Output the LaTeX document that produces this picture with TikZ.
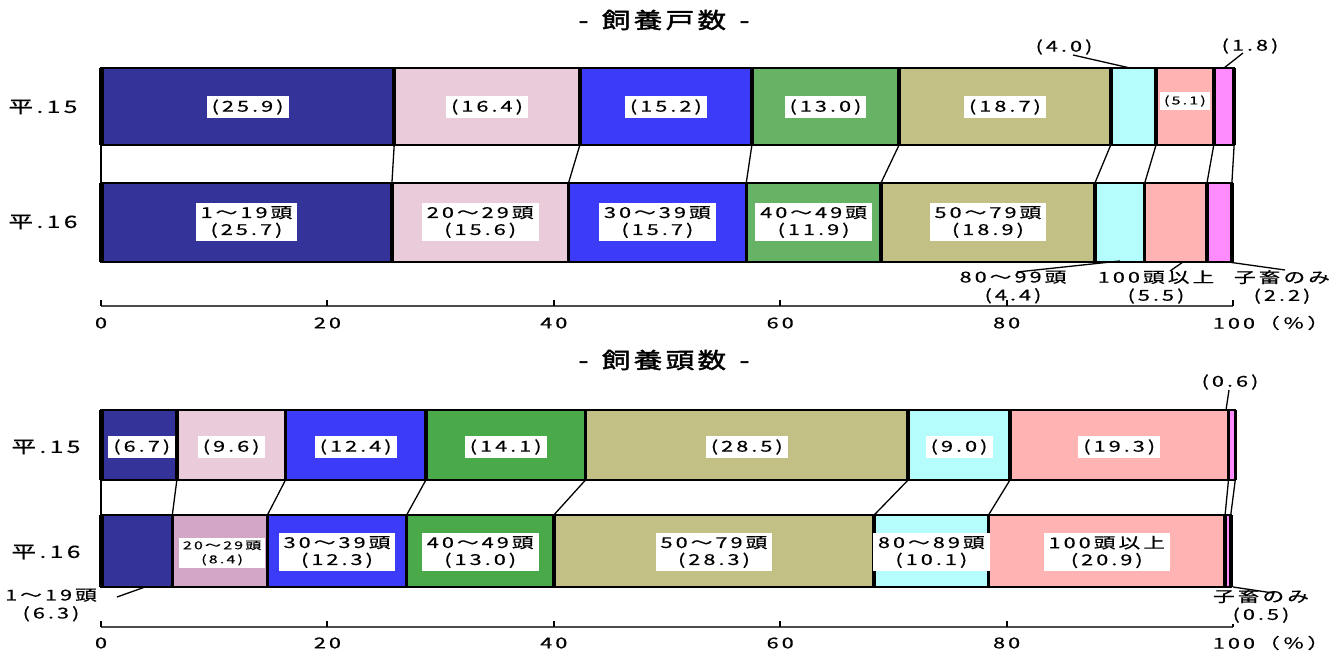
\documentclass[tikz,border=0pt]{standalone}
\usepackage{fontspec}
\newfontfamily\jp[FakeStretch=1.45,LetterSpace=20,FakeBold=0.5]{Noto Sans CJK JP}
\newfontfamily\jpt[FakeStretch=1.3,LetterSpace=15,FakeBold=1.8]{Noto Sans CJK JP}
\definecolor{cA}{HTML}{333399}
\definecolor{cB}{HTML}{E9CBDA}
\definecolor{cBb}{HTML}{D3A5C6}
\definecolor{cC}{HTML}{3C3CF8}
\definecolor{cD}{HTML}{66B366}
\definecolor{cDb}{HTML}{4AAA4A}
\definecolor{cE}{HTML}{C2C084}
\definecolor{cF}{HTML}{B5FDFD}
\definecolor{cG}{HTML}{FFB3B3}
\definecolor{cH}{HTML}{FF8CFF}
\begin{document}
\begin{tikzpicture}[x=1pt,y=-1pt,
 lab/.style={fill=white, inner xsep=5pt, inner ysep=3pt, align=center, font=\jp\fontsize{15}{17}\selectfont},
 slab/.style={fill=white, inner xsep=4pt, inner ysep=3pt, align=center, font=\jp\fontsize{11}{14}\selectfont},
 olab/.style={align=center, inner sep=1pt, font=\jp\fontsize{15}{18}\selectfont},
 rowlab/.style={font=\jp\fontsize{17}{19}\selectfont},
 ttl/.style={font=\jpt\fontsize{22}{24}\selectfont},
 ticklab/.style={font=\jp\fontsize{15}{17}\selectfont},
 frame/.style={draw=black, line width=2pt},
 divider/.style={line width=3.5pt},
 series/.style={line width=1.3pt},
 leader/.style={line width=1.3pt},
 axisline/.style={line width=2pt, draw=black!70},
 tick/.style={line width=2pt}]
\useasboundingbox (0,0) rectangle (1343,653);
% titles and row labels
\node[ttl] (t1) at (664,20) {-\, 飼養戸数 \,-};
\node[ttl] (t2) at (664,360) {-\, 飼養頭数 \,-};
\node[rowlab] (r1) at (43,107) {平.15};
\node[rowlab] (r2) at (43,222) {平.16};
\node[rowlab] (r3) at (46,447) {平.15};
\node[rowlab] (r4) at (46,552) {平.16};
\begin{scope}[xshift=101pt, x=11.32pt]
% ---------- top chart, bar A (平.15)
\foreach \s/\e/\c in {0/25.9/cA,25.9/42.3/cB,42.3/57.5/cC,57.5/70.5/cD,70.5/89.2/cE,89.2/93.2/cF,93.2/98.3/cG,98.3/100.1/cH}
  \fill[\c] (\s,68) rectangle (\e,145);
\draw[frame] (0,68) rectangle (100.1,145);
\foreach \p in {25.9,42.3,57.5,70.5,89.2,93.2,98.3,100.1} \draw[divider] (\p,68) -- (\p,145);
\draw[line width=5pt] (0,68) -- (0,145);
% ---------- top chart, bar B (平.16)
\foreach \s/\e/\c in {0/25.7/cA,25.7/41.3/cB,41.3/57.0/cC,57.0/68.9/cD,68.9/87.8/cE,87.8/92.2/cF,92.2/97.7/cG,97.7/99.9/cH}
  \fill[\c] (\s,183) rectangle (\e,262);
\draw[frame] (0,183) rectangle (99.9,262);
\foreach \p in {25.7,41.3,57.0,68.9,87.8,92.2,97.7,99.9} \draw[divider] (\p,183) -- (\p,262);
\draw[line width=5pt] (0,183) -- (0,262);
% series lines
\foreach \i/\pa/\pb in {0/0/0,1/25.9/25.7,2/42.3/41.3,3/57.5/57.0,4/70.5/68.9,5/89.2/87.8,6/93.2/92.2,7/98.3/97.7,8/100.1/99.9} {
  \coordinate (ta\i) at (\pa,145);
  \coordinate (tb\i) at (\pb,183);
  \draw[series] (ta\i) -- (tb\i);
}
% labels bar A
\node[lab] (la1) at (12.95,107) {(25.9)};
\node[lab] (la2) at (34.1,107) {(16.4)};
\node[lab] (la3) at (49.9,107) {(15.2)};
\node[lab] (la4) at (64.0,107) {(13.0)};
\node[lab] (la5) at (79.85,107) {(18.7)};
\node[slab] (la7) at (95.75,101) {(5.1)};
% labels bar B
\node[lab] (lb1) at (12.85,222) {1～19頭\\(25.7)};
\node[lab] (lb2) at (33.5,222) {20～29頭\\(15.6)};
\node[lab] (lb3) at (49.15,222) {30～39頭\\(15.7)};
\node[lab] (lb4) at (62.95,222) {40～49頭\\(11.9)};
\node[lab] (lb5) at (78.35,222) {50～79頭\\(18.9)};
% axis
\coordinate (xa0) at (0,306);
\coordinate (xa1) at (100,306);
\draw[axisline] (xa0) -- (xa1);
\foreach \v [count=\k] in {0,20,40,60,80,100} {
  \coordinate (tk\k) at (\v,306);
  \draw[tick] (tk\k) -- ++(0,-6);
}
\foreach \v [count=\k] in {0,20,40,60,80}
  \node[ticklab] (tl\k) at (\v,323) {\v};
\node[ticklab, anchor=west, inner sep=0pt] (tl6) at (98.2,323) {100（％）};
% ---------- bottom chart, bar C (平.15)
\foreach \s/\e/\c in {0/6.7/cA,6.7/16.3/cB,16.3/28.7/cC,28.7/42.8/cDb,42.8/71.3/cE,71.3/80.3/cF,80.3/99.6/cG,99.6/100.2/cH}
  \fill[\c] (\s,410) rectangle (\e,480);
\draw[frame] (0,410) rectangle (100.2,480);
\foreach \p in {6.7,16.3,28.7,42.8,71.3,80.3,99.6,100.2} \draw[divider] (\p,410) -- (\p,480);
\draw[line width=5pt] (0,410) -- (0,480);
% ---------- bottom chart, bar D (平.16)
\foreach \s/\e/\c in {0/6.3/cA,6.3/14.7/cBb,14.7/27.0/cC,27.0/40.0/cDb,40.0/68.3/cE,68.3/78.4/cF,78.4/99.3/cG,99.3/99.8/cH}
  \fill[\c] (\s,515) rectangle (\e,587);
\draw[frame] (0,515) rectangle (99.8,587);
\foreach \p in {6.3,14.7,27.0,40.0,68.3,78.4,99.3,99.8} \draw[divider] (\p,515) -- (\p,587);
\draw[line width=5pt] (0,515) -- (0,587);
% series lines
\foreach \i/\pa/\pb in {0/0/0,1/6.7/6.3,2/16.3/14.7,3/28.7/27.0,4/42.8/40.0,5/71.3/68.3,6/80.3/78.4,7/99.6/99.3,8/100.2/99.8} {
  \coordinate (bc\i) at (\pa,480);
  \coordinate (bd\i) at (\pb,515);
  \draw[series] (bc\i) -- (bd\i);
}
% labels bar C
\node[lab] (lc1) at (3.6,447) {(6.7)};
\node[lab] (lc2) at (11.5,447) {(9.6)};
\node[lab] (lc3) at (22.5,447) {(12.4)};
\node[lab] (lc4) at (35.75,447) {(14.1)};
\node[lab] (lc5) at (57.05,447) {(28.5)};
\node[lab] (lc6) at (75.8,447) {(9.0)};
\node[lab] (lc7) at (89.95,447) {(19.3)};
% labels bar D
\node[slab] (ld2) at (10.7,553) {20～29頭\\(8.4)};
\node[lab] (ld3) at (20.85,552) {30～39頭\\(12.3)};
\node[lab] (ld4) at (33.5,552) {40～49頭\\(13.0)};
\node[lab] (ld5) at (54.15,552) {50～79頭\\(28.3)};
\node[lab] (ld6) at (73.35,552) {80～89頭\\(10.1)};
\node[lab] (ld7) at (88.85,552) {100頭以上\\(20.9)};
% axis
\coordinate (xb0) at (0,627);
\coordinate (xb1) at (100,627);
\draw[axisline] (xb0) -- (xb1);
\foreach \v [count=\k] in {0,20,40,60,80,100} {
  \coordinate (bk\k) at (\v,627);
  \draw[tick] (bk\k) -- ++(0,-6);
}
\foreach \v [count=\k] in {0,20,40,60,80}
  \node[ticklab] (bl\k) at (\v,643) {\v};
\node[ticklab, anchor=west, inner sep=0pt] (bl6) at (98.2,643) {100（％）};
\end{scope}
% ---------- outside labels, top chart
\node[olab] (o40) at (1064,47) {(4.0)};
\coordinate (o40a) at (1073,55);
\coordinate (o40b) at (1130,68);
\draw[leader] (o40a) -- (o40b);
\node[olab] (o18) at (1250,46) {(1.8)};
\coordinate (o18a) at (1243,53);
\coordinate (o18b) at (1224,68);
\draw[leader] (o18a) -- (o18b);
\node[olab] (o44) at (1013,287) {80～99頭\\(4.4)};
\coordinate (o44a) at (1017,272);
\coordinate (o44b) at (1120,261);
\draw[leader] (o44a) -- (o44b);
\node[olab] (o55) at (1156,287) {100頭以上\\(5.5)};
\coordinate (o55a) at (1170,271);
\coordinate (o55b) at (1183,262);
\draw[leader] (o55a) -- (o55b);
\node[olab] (o22) at (1282,287) {子畜のみ\\(2.2)};
\coordinate (o22a) at (1285,270);
\coordinate (o22b) at (1228,262);
\draw[leader] (o22a) -- (o22b);
% ---------- outside labels, bottom chart
\node[olab] (o06) at (1230,382) {(0.6)};
\coordinate (o06a) at (1229,390);
\coordinate (o06b) at (1226,410);
\draw[leader] (o06a) -- (o06b);
\node[olab] (o63) at (51,605) {1～19頭\\(6.3)};
\coordinate (o63a) at (117,597);
\coordinate (o63b) at (145,587);
\draw[leader] (o63a) -- (o63b);
\node[olab, fill=white] (o05) at (1261,606) {子畜のみ\\(0.5)};
\coordinate (o05a) at (1233,587);
\coordinate (o05b) at (1273,593);
\draw[leader] (o05a) -- (o05b);
\end{tikzpicture}
\end{document}
